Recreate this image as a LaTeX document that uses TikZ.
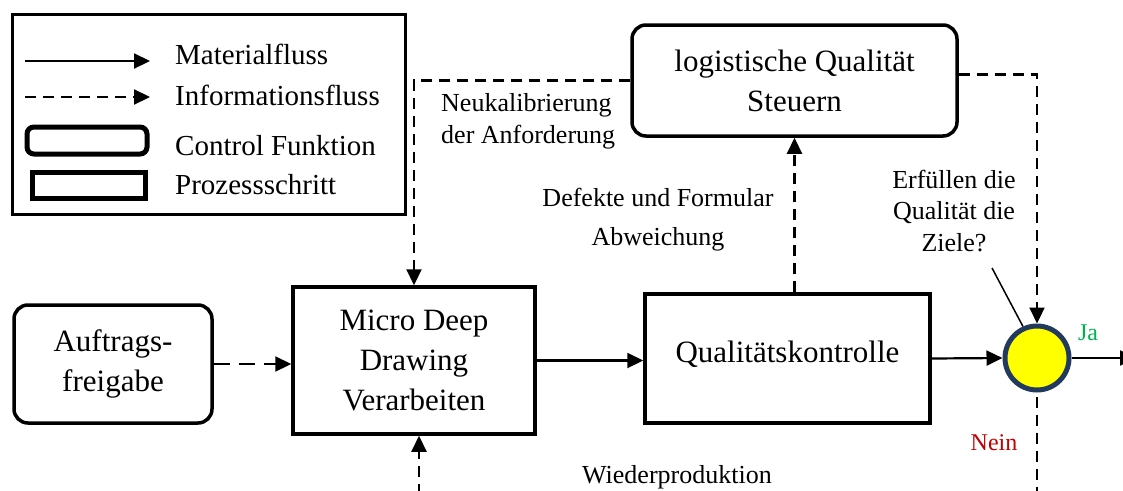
\documentclass[tikz,border=0pt]{standalone}
\usepackage{fontspec}
\setmainfont{Liberation Serif}
\usetikzlibrary{arrows.meta,calc}
\definecolor{circleedge}{HTML}{223A5E}
\definecolor{circlefill}{HTML}{FFFF00}
\definecolor{jagreen}{HTML}{00B050}
\definecolor{neinred}{HTML}{C00000}

\begin{document}
\begin{tikzpicture}[x=1pt,y=-1pt,
  box/.style={draw,line width=3.5pt,align=center,inner sep=0pt,
    font=\fontsize{31}{40}\selectfont},
  prozess/.style={box},
  control/.style={box,rounded corners=14pt},
  lbl/.style={align=center,inner sep=0pt,font=\fontsize{26}{32}\selectfont},
  legtext/.style={anchor=west,inner sep=0pt,font=\fontsize{29}{34}\selectfont},
  flow/.style={line width=2.2pt,-{Triangle[length=16pt,width=15pt]}},
  info/.style={flow,dash pattern=on 11pt off 7pt},
  infoline/.style={line width=2.2pt,dash pattern=on 11pt off 7pt},
]
\useasboundingbox (0,0) rectangle (1123,490);

% legend
\node[draw,line width=3pt,minimum width=393pt,minimum height=200pt] (legend) at (208.5,114) {};
\coordinate (lmA) at (25,61);
\coordinate (lmB) at (150,61);
\coordinate (liA) at (25,97);
\coordinate (liB) at (150,97);
\draw[flow] (lmA) -- (lmB);
\draw[info] (liA) -- (liB);
\draw[line width=5pt,rounded corners=7pt] (27,127) rectangle (147,154);
\draw[line width=5pt] (32,172) rectangle (145,198);
\node[legtext] (tm) at (175,54) {Materialfluss};
\node[legtext] (ti) at (175,95) {Informationsfluss};
\node[legtext] (tc) at (175,146) {Control Funktion};
\node[legtext] (tp) at (175,185) {Prozessschritt};

% process chain
\node[control,minimum width=198pt,minimum height=118pt] (auf) at (113,364) {Auftrags-\\freigabe};
\node[prozess,minimum width=242pt,minimum height=147pt] (mdd) at (414,360.5) {Micro Deep\\Drawing\\Verarbeiten};
\node[prozess,minimum width=285pt,minimum height=129pt] (qk) at (787.5,358.5) {};
\node[inner sep=0pt,font=\fontsize{31}{40}\selectfont] (qkt) at (787.5,354) {Qualitätskontrolle};
\node[control,minimum width=325pt,minimum height=111pt] (lq) at (794.5,80.5) {logistische Qualität\\Steuern};
\node[circle,draw=circleedge,fill=circlefill,line width=5pt,minimum size=64pt,inner sep=0pt] (dec) at (1037,358) {};

% free ends leaving the picture
\coordinate (jaend) at (1136,358);
\coordinate (neinend) at (1037,495);
\coordinate (wpstart) at (419,495);
\coordinate (ptr) at (992,268);

% labels
\node[lbl,anchor=west,align=left] (neu) at (441,121.5) {Neukalibrierung\\der Anforderung};
\node[lbl,font=\fontsize{26}{39}\selectfont] (def) at (658,219.5) {Defekte und Formular\\Abweichung};
\node[lbl,font=\fontsize{26}{31.5}\selectfont] (erf) at (954,211) {Erfüllen die\\Qualität die\\Ziele?};
\node[lbl,anchor=base west] (wp) at (582,483) {Wiederproduktion};
\node[lbl,text=jagreen,font=\fontsize{24}{28}\selectfont] (ja) at (1088,333) {Ja};
\node[lbl,text=neinred,font=\fontsize{24}{28}\selectfont] (nein) at (994,443) {Nein};

% material flow
\draw[flow] (mdd.east) -- (mdd.east -| qk.west);
\draw[flow] (qk.east) -- (dec.west);
\draw[flow] (dec.east) -- (jaend);

% information flow
\draw[info,dash pattern=on 16pt off 9pt] (auf.east) -- (auf.east -| mdd.west);
\draw[info] (lq.south |- qk.north) -- (lq.south);
\draw[info] (lq.west) -- (lq.west -| mdd.north) -- (mdd.north);
\draw[info] ($(lq.east)+(0,-6)$) -| (dec.north);
\draw[infoline] ($(dec.south)+(0,4)$) -- (neinend);
\draw[info] (wpstart) -- (wpstart |- mdd.south);

% pointer from the question to the decision
\draw[line width=1.5pt] (ptr) -- (dec.114);
\end{tikzpicture}
\end{document}
